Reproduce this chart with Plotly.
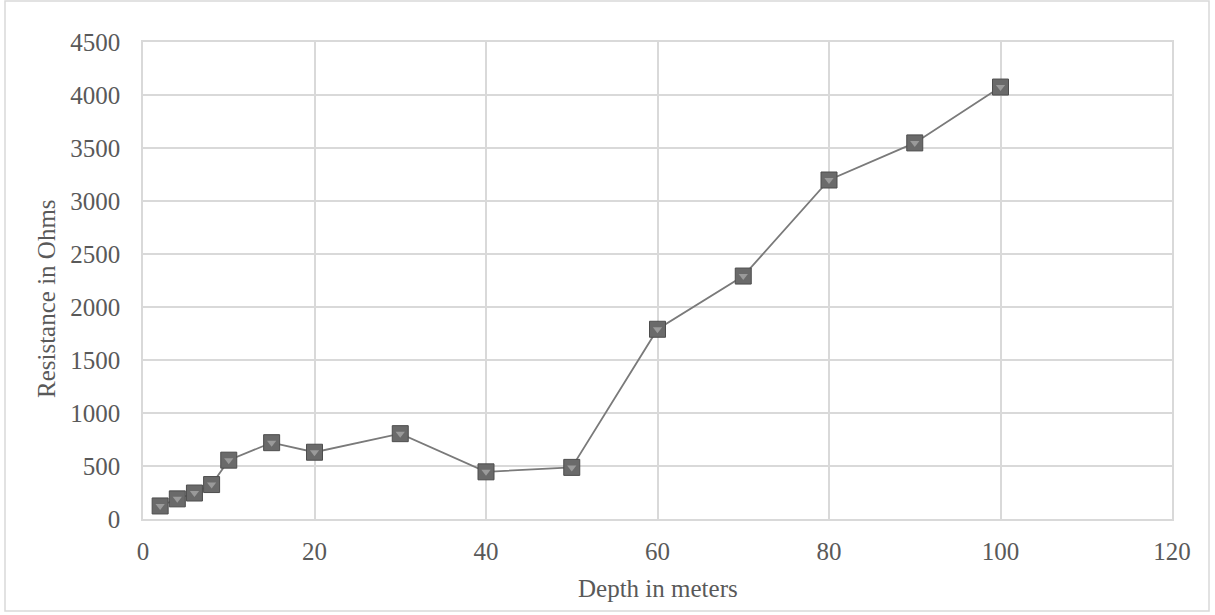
import plotly.graph_objects as go

depth_m = [2, 4, 6, 8, 10, 15, 20, 30, 40, 50, 60, 70, 80, 90, 100]
resistance_ohms = [123, 190, 245, 325, 555, 720, 630, 805, 445, 487, 1790, 2292, 3198, 3548, 4075]

x_ticks = [0, 20, 40, 60, 80, 100, 120]
y_ticks = [0, 500, 1000, 1500, 2000, 2500, 3000, 3500, 4000, 4500]

x_title = "Depth in meters"
y_title = "Resistance in Ohms"

FONT = "Liberation Serif"
FS = 25
TXT = "#595959"
GRID = "#d9d9d9"

L, R, T, B = 143, 1172, 42, 519
PW, PH = R - L, B - T

fig = go.Figure()
fig.add_trace(go.Scatter(
    x=depth_m, y=resistance_ohms, mode="lines+markers",
    line=dict(color="#7a7a7a", width=1.8),
    marker=dict(symbol="square", size=16, color="#6a6a6a",
                line=dict(color="#4d4d4d", width=1)),
    showlegend=False, hoverinfo="x+y",
))
fig.add_trace(go.Scatter(
    x=depth_m, y=resistance_ohms, mode="markers",
    marker=dict(symbol="triangle-down", size=8, color="#9a9a9a", line=dict(width=0)),
    showlegend=False, hoverinfo="skip",
))

fig.update_layout(
    width=1215, height=615,
    margin=dict(l=L, r=1215 - R, t=T, b=615 - B),
    paper_bgcolor="white", plot_bgcolor="white",
    font=dict(family=FONT, size=FS, color=TXT),
    xaxis=dict(range=[0, 120], tickvals=x_ticks, showgrid=True, gridcolor=GRID,
               gridwidth=1.5, zeroline=False, showline=True, linecolor=GRID,
               linewidth=1.5, mirror=True, ticks="", ticklabelstandoff=9),
    yaxis=dict(range=[0, 4500], tickvals=y_ticks, showgrid=True, gridcolor=GRID,
               gridwidth=1.5, zeroline=False, showline=True, linecolor=GRID,
               linewidth=1.5, mirror=True, ticks="", ticklabelstandoff=16),
    annotations=[
        dict(text=x_title, xref="paper", yref="paper", showarrow=False,
             x=(658 - L) / PW, y=(B - 588) / PH, xanchor="center", yanchor="middle",
             font=dict(family=FONT, size=FS, color=TXT)),
        dict(text=y_title, xref="paper", yref="paper", showarrow=False, textangle=-90,
             x=(46 - L) / PW, y=(B - 299) / PH, xanchor="center", yanchor="middle",
             font=dict(family=FONT, size=FS, color=TXT)),
    ],
    shapes=[dict(type="rect", xref="paper", yref="paper",
                 x0=(5 - L) / PW, x1=(1209 - L) / PW,
                 y0=(B - 611) / PH, y1=(B - 1) / PH,
                 line=dict(color="#d9d9d9", width=1.5), fillcolor="rgba(0,0,0,0)", layer="below")],
)

fig.write_html("out.html")
